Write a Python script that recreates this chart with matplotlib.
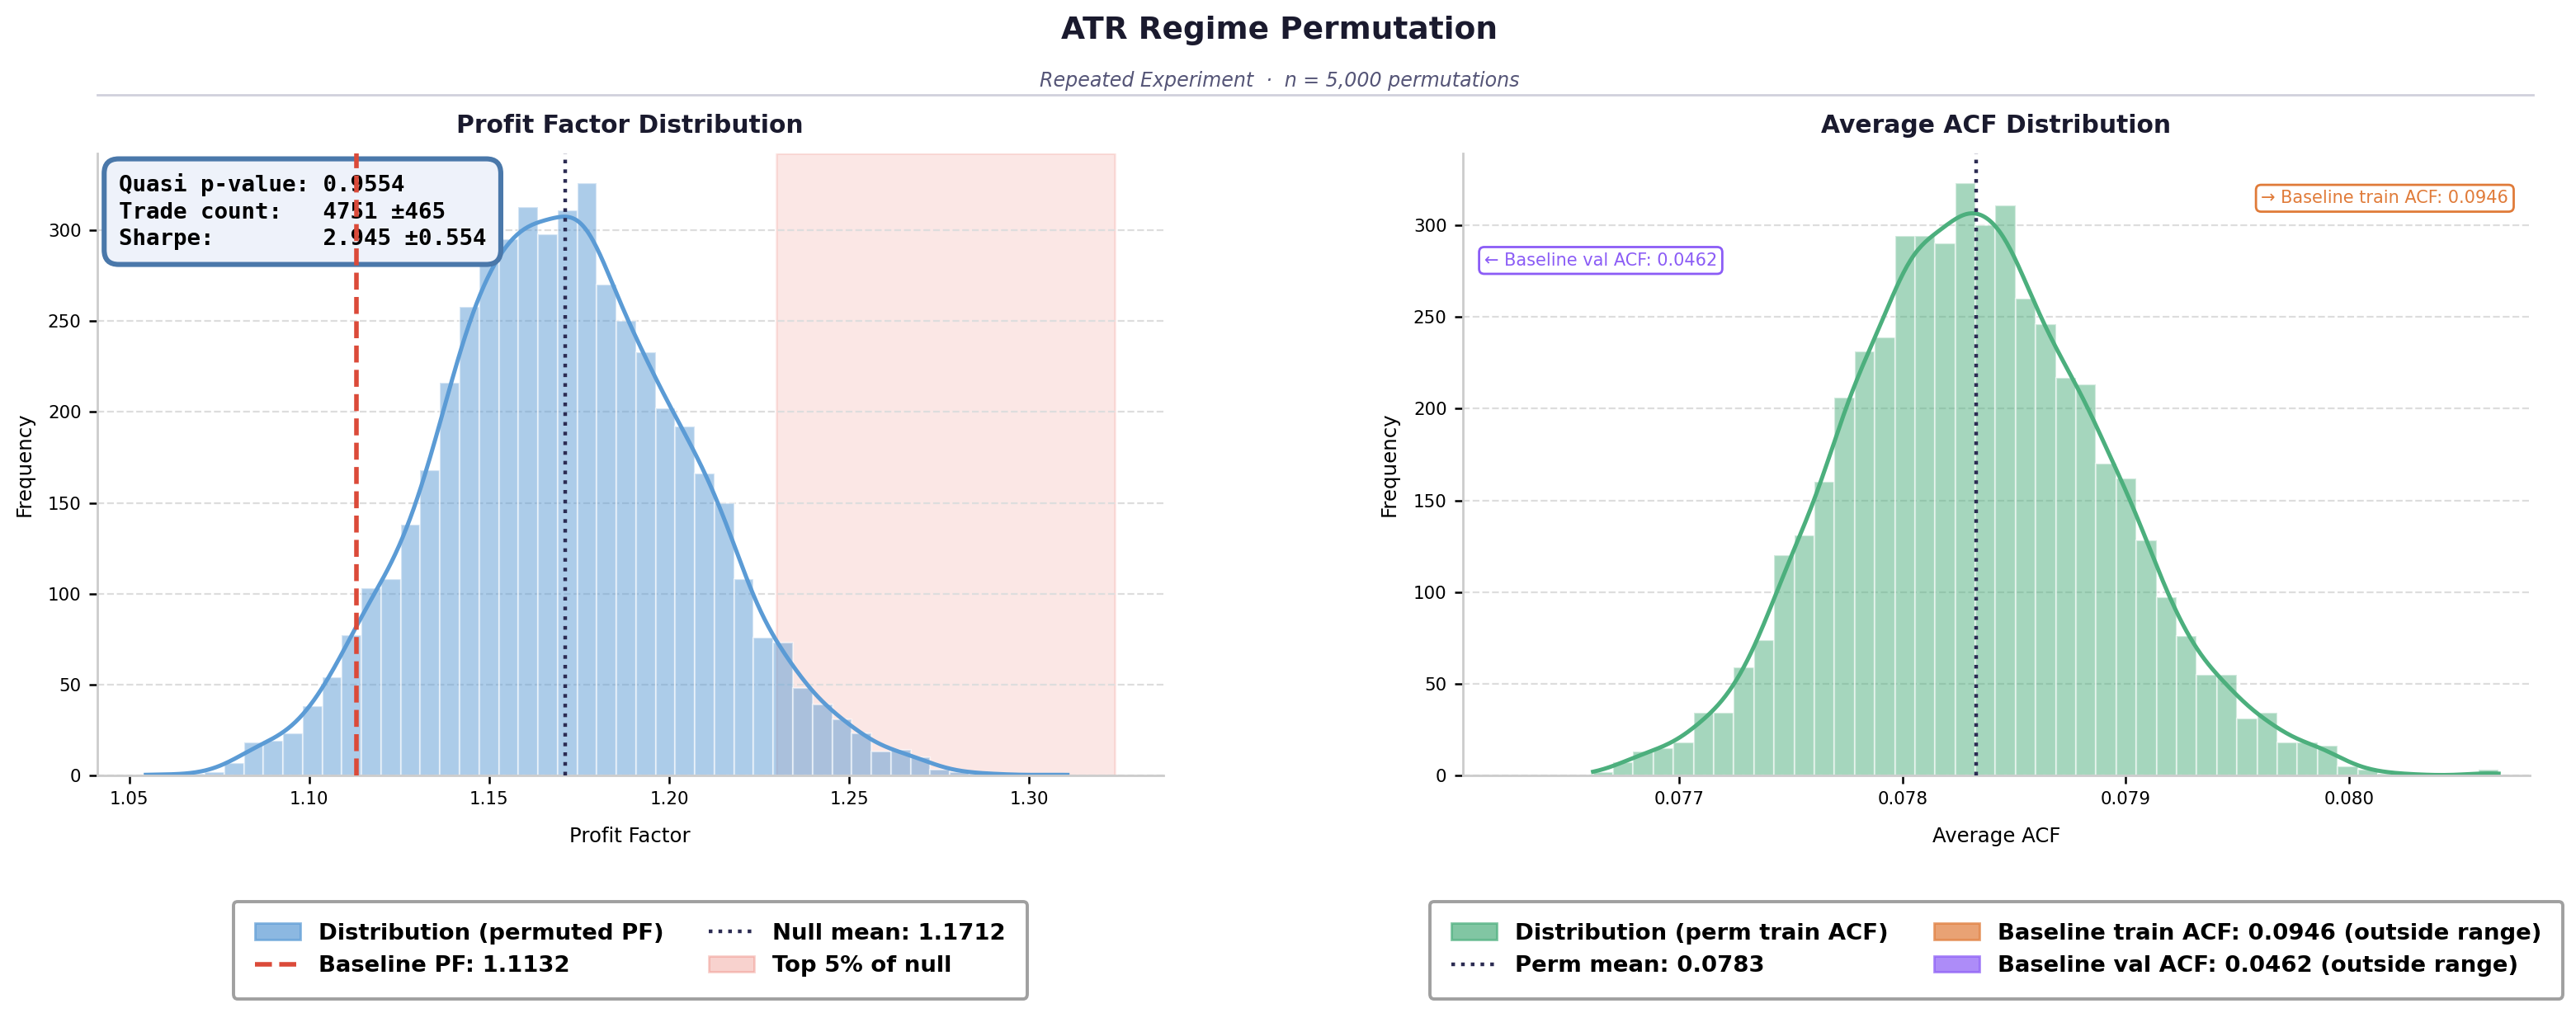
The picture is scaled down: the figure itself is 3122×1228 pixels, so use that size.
import numpy as np
import matplotlib
matplotlib.use("Agg")
import matplotlib.pyplot as plt
from matplotlib.patches import Patch
from matplotlib.lines import Line2D

# ---------------- data ----------------
pf_min, pf_max = 1.0546, 1.3106
pf_counts = [1, 0, 1, 2, 7, 18, 19, 23, 38, 54, 77, 103, 108, 138, 168, 216,
             258, 282, 295, 313, 298, 311, 326, 270, 250, 233, 202, 192, 166,
             150, 108, 76, 73, 48, 39, 31, 23, 13, 14, 10, 3, 2, 1, 1, 0, 0, 1]
pf_baseline = 1.1132
pf_null_mean = 1.1712
pf_top5_lo, pf_top5_hi = 1.2298, 1.3237

acf_min, acf_max = 0.076613, 0.08067
acf_counts = [2, 7, 13, 15, 18, 34, 34, 59, 74, 120, 131, 160, 206, 231, 239,
              294, 294, 290, 323, 300, 311, 260, 246, 217, 213, 170, 162, 128,
              97, 76, 55, 55, 31, 34, 18, 18, 16, 5, 3, 1, 1, 0, 0, 0, 3]
acf_perm_mean = 0.07833
acf_base_train = 0.0946
acf_base_val = 0.0462

box_lines = ["Quasi p-value: 0.9554",
             "Trade count:   4751 ±465",
             "Sharpe:        2.945 ±0.554"]

pf_xticks = [1.05, 1.10, 1.15, 1.20, 1.25, 1.30]
acf_xticks = [0.077, 0.078, 0.079, 0.080]
yticks = [0, 50, 100, 150, 200, 250, 300]

# ---------------- style ----------------
BLUE = "#5b9bd5"
GREEN = "#4caf7d"
RED = "#db4a39"
NAVY = "#2b2b52"
PINK = "#e74c3c"
ORANGE = "#e07b39"
PURPLE = "#8b5cf6"
TITLE_C = "#1a1a2e"

plt.rcParams["font.family"] = ["DejaVu Sans"]


def kde_curve(edges, counts, bw_adjust=1.0):
    counts = np.asarray(counts, float)
    centers = 0.5 * (edges[:-1] + edges[1:])
    n = counts.sum()
    mean = (centers * counts).sum() / n
    std = np.sqrt((counts * (centers - mean) ** 2).sum() / n)
    bw = std * n ** (-1 / 5) * bw_adjust
    grid = np.linspace(edges[0], edges[-1], 500)
    dens = (counts[None, :] * np.exp(-0.5 * ((grid[:, None] - centers[None, :]) / bw) ** 2)).sum(1)
    dens /= n * bw * np.sqrt(2 * np.pi)
    width = edges[1] - edges[0]
    return grid, dens * n * width


def style_axes(ax):
    for s in ["top", "right"]:
        ax.spines[s].set_visible(False)
    for s in ["left", "bottom"]:
        ax.spines[s].set_color("#cccccc")
        ax.spines[s].set_linewidth(1.0)
    ax.yaxis.grid(True, linestyle="--", color="#dddddd", linewidth=0.8)
    ax.set_axisbelow(True)
    ax.tick_params(labelsize=7.7, length=3.5, width=0.9)
    ax.set_yticks(yticks)


fig = plt.figure(figsize=(15.61, 6.14), dpi=200)
axL = fig.add_axes([0.0378, 0.2345, 0.4137, 0.614])
axR = fig.add_axes([0.5679, 0.2345, 0.4142, 0.614])

# ---------- left panel ----------
edges = np.linspace(pf_min, pf_max, len(pf_counts) + 1)
centers = 0.5 * (edges[:-1] + edges[1:])
axL.axvspan(pf_top5_lo, pf_top5_hi, color=PINK, alpha=0.13, lw=1, zorder=0.5)
axL.hist(centers, bins=edges, weights=pf_counts, color=BLUE, alpha=0.5,
         edgecolor="white", linewidth=0.8, zorder=1)
gx, gy = kde_curve(edges, pf_counts)
axL.plot(gx, gy, color=BLUE, lw=1.8, zorder=2)
axL.axvline(pf_baseline, color=RED, ls="--", lw=2.0, zorder=5)
axL.axvline(pf_null_mean, color=NAVY, ls=":", lw=1.6, zorder=5)
style_axes(axL)
axL.set_xticks(pf_xticks)
axL.set_xticklabels([f"{v:.2f}" for v in pf_xticks])
axL.set_title("Profit Factor Distribution", fontsize=10.7, fontweight="bold",
              color=TITLE_C, pad=9)
axL.set_xlabel("Profit Factor", fontsize=8.8, labelpad=8)
axL.set_ylabel("Frequency", fontsize=8.8, labelpad=6)
axL.text(0.02, 0.968, "\n".join(box_lines), transform=axL.transAxes, ha="left",
         va="top", family="DejaVu Sans Mono", fontweight="bold", fontsize=9.9,
         linespacing=1.32, zorder=4,
         bbox=dict(boxstyle="round,pad=0.64", fc="#eef2fa", ec="#4a78aa", lw=2.2))
handlesL = [Patch(facecolor=BLUE, alpha=0.7, edgecolor=BLUE),
            Line2D([0], [0], color=RED, ls="--", lw=2.0),
            Line2D([0], [0], color=NAVY, ls=":", lw=1.6),
            Patch(facecolor=PINK, alpha=0.25, edgecolor=PINK)]
labelsL = ["Distribution (permuted PF)", f"Baseline PF: {pf_baseline:.4f}",
           f"Null mean: {pf_null_mean:.4f}", "Top 5% of null"]
legL = axL.legend(handlesL, labelsL, loc="upper center", bbox_to_anchor=(0.5, -0.184),
                  ncol=2, frameon=True, fancybox=True, prop={"weight": "bold", "size": 9.9},
                  edgecolor="#888888", borderpad=0.95, columnspacing=2.0)
legL.get_frame().set_linewidth(1.4)

# ---------- right panel ----------
edgesR = np.linspace(acf_min, acf_max, len(acf_counts) + 1)
centersR = 0.5 * (edgesR[:-1] + edgesR[1:])
axR.hist(centersR, bins=edgesR, weights=acf_counts, color=GREEN, alpha=0.5,
         edgecolor="white", linewidth=0.8, zorder=1)
gx, gy = kde_curve(edgesR, acf_counts, bw_adjust=0.93)
axR.plot(gx, gy, color=GREEN, lw=1.8, zorder=2)
axR.axvline(acf_perm_mean, color=NAVY, ls=":", lw=1.6, zorder=5)
style_axes(axR)
axR.set_xlim(0.07603, 0.08081)
axR.set_xticks(acf_xticks)
axR.set_xticklabels([f"{v:.3f}" for v in acf_xticks])
axR.set_title("Average ACF Distribution", fontsize=10.7, fontweight="bold",
              color=TITLE_C, pad=9)
axR.set_xlabel("Average ACF", fontsize=8.8, labelpad=8)
axR.set_ylabel("Frequency", fontsize=8.8, labelpad=6)
axR.text(0.98, 0.928, f"→ Baseline train ACF: {acf_base_train:.4f}", transform=axR.transAxes,
         ha="right", va="center", color=ORANGE, fontsize=7.5, zorder=6,
         bbox=dict(boxstyle="round,pad=0.3", fc="white", ec=ORANGE, lw=1.0))
axR.text(0.02, 0.828, f"← Baseline val ACF: {acf_base_val:.4f}", transform=axR.transAxes,
         ha="left", va="center", color=PURPLE, fontsize=7.5, zorder=6,
         bbox=dict(boxstyle="round,pad=0.3", fc="white", ec=PURPLE, lw=1.0))
handlesR = [Patch(facecolor=GREEN, alpha=0.7, edgecolor=GREEN),
            Line2D([0], [0], color=NAVY, ls=":", lw=1.6),
            Patch(facecolor=ORANGE, alpha=0.7, edgecolor=ORANGE),
            Patch(facecolor=PURPLE, alpha=0.7, edgecolor=PURPLE)]
labelsR = ["Distribution (perm train ACF)", f"Perm mean: {acf_perm_mean:.4f}",
           f"Baseline train ACF: {acf_base_train:.4f} (outside range)",
           f"Baseline val ACF: {acf_base_val:.4f} (outside range)"]
legR = axR.legend(handlesR, labelsR, loc="upper center", bbox_to_anchor=(0.5, -0.184),
                  ncol=2, frameon=True, fancybox=True, prop={"weight": "bold", "size": 9.9},
                  edgecolor="#888888", borderpad=0.95, columnspacing=2.0)
legR.get_frame().set_linewidth(1.4)

# ---------- figure titles ----------
fig.text(0.4967, 0.970, "ATR Regime Permutation", ha="center", va="center",
         fontsize=13.5, fontweight="bold", color=TITLE_C)
fig.text(0.4967, 0.920, "Repeated Experiment  ·  n = 5,000 permutations", ha="center",
         va="center", fontsize=8.55, style="italic", color="#555577")
fig.add_artist(Line2D([0.0378, 0.9835], [0.9064, 0.9064], transform=fig.transFigure,
                      color="#d0d0dc", lw=1.0))

fig.savefig("out.png", dpi=200)
